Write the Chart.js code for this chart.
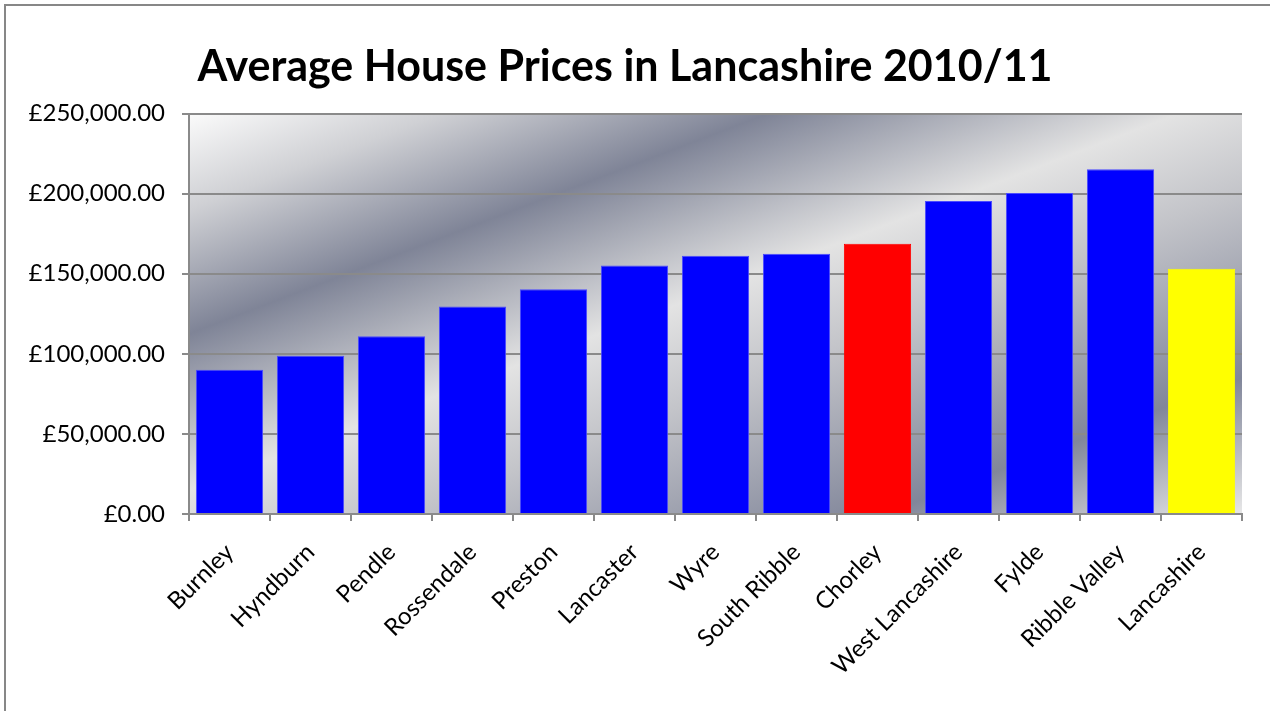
<!DOCTYPE html>
<html>
<head>
<meta charset="utf-8">
<script src="https://cdn.jsdelivr.net/npm/chart.js@4.4.1/dist/chart.umd.min.js"></script>
<style>
  html, body { margin: 0; padding: 0; background: #ffffff; }
  #wrap { width: 1270px; height: 711px; position: relative; }
</style>
</head>
<body>
<div id="wrap"><canvas id="c" width="1270" height="711"></canvas></div>
<script>
const chartTitle = 'Average House Prices in Lancashire 2010/11';
const categories = ['Burnley', 'Hyndburn', 'Pendle', 'Rossendale', 'Preston', 'Lancaster', 'Wyre',
  'South Ribble', 'Chorley', 'West Lancashire', 'Fylde', 'Ribble Valley', 'Lancashire'];
const averagePrices = [90000, 98750, 111000, 129500, 140400, 155200, 161250,
  162500, 168750, 195400, 200400, 215200, 153100];
const barColors = ['#0000ff', '#0000ff', '#0000ff', '#0000ff', '#0000ff', '#0000ff', '#0000ff',
  '#0000ff', '#ff0000', '#0000ff', '#0000ff', '#0000ff', '#ffff00'];
const barBorders = ['#4a4aff', '#4a4aff', '#4a4aff', '#4a4aff', '#4a4aff', '#4a4aff', '#4a4aff',
  '#4a4aff', '#ff0000', '#4a4aff', '#4a4aff', '#4a4aff', '#ffff00'];
const yTickValues = [0, 50000, 100000, 150000, 200000, 250000];

const fmt = v => '£' + Number(v).toLocaleString('en-GB', { minimumFractionDigits: 2, maximumFractionDigits: 2 });

const bgPlugin = {
  id: 'bg',
  beforeDraw(chart) {
    const ctx = chart.ctx;
    ctx.save();
    ctx.fillStyle = '#ffffff';
    ctx.fillRect(0, 0, chart.width, chart.height);
    ctx.strokeStyle = '#878787';
    ctx.lineWidth = 2;
    ctx.strokeRect(5, 5, 1400, 900);
    const a = chart.chartArea;
    const W = a.right - a.left, H = a.bottom - a.top;
    const k = 2 * W * H / (W * W + H * H);
    const g = ctx.createLinearGradient(a.left, a.top, a.left + H * k, a.top + W * k);
    g.addColorStop(0, '#fbfbfb');
    g.addColorStop(0.12, '#cfd0d4');
    g.addColorStop(0.275, '#7f8497');
    g.addColorStop(0.47, '#e3e3e3');
    g.addColorStop(0.6, '#c3c4c9');
    g.addColorStop(0.83, '#81869a');
    g.addColorStop(1, '#e8e8e8');
    ctx.fillStyle = g;
    ctx.fillRect(a.left, a.top, W, H);
    ctx.restore();
  }
};

const gridGray = '#8a8a8a';
new Chart(document.getElementById('c'), {
  type: 'bar',
  data: {
    labels: categories,
    datasets: [{
      data: averagePrices,
      backgroundColor: barColors,
      borderColor: barBorders,
      borderWidth: 1,
      borderSkipped: 'start',
      barPercentage: 0.83,
      categoryPercentage: 1.0
    }]
  },
  options: {
    responsive: false,
    animation: false,
    devicePixelRatio: 1,
    layout: { padding: { left: 8, right: 28, top: 10, bottom: 0 } },
    plugins: {
      legend: { display: false },
      tooltip: { enabled: false },
      title: {
        display: true,
        text: chartTitle,
        color: '#000000',
        font: { family: 'Lato', size: 43, weight: 'bold', lineHeight: 1.2 },
        padding: { top: 31, bottom: 21 }
      }
    },
    scales: {
      x: {
        grid: { display: true, drawOnChartArea: false, drawTicks: true, tickLength: 7, color: gridGray, lineWidth: 2, offset: true },
        border: { display: true, color: gridGray, width: 2 },
        ticks: {
          color: '#000000',
          font: { family: 'Lato', size: 24 },
          minRotation: 45, maxRotation: 45, autoSkip: false, padding: 17
        },
        afterFit(s) { s.height = 197; }
      },
      y: {
        min: 0, max: 250000,
        grid: { color: gridGray, lineWidth: 2, tickLength: 7, drawTicks: true },
        border: { display: true, color: gridGray, width: 2 },
        afterBuildTicks(s) { s.ticks = yTickValues.map(v => ({ value: v })); },
        ticks: {
          color: '#000000',
          font: { family: 'Lato', size: 24 },
          padding: 17,
          callback: v => fmt(v)
        },
        afterFit(s) { s.width = 181; }
      }
    }
  },
  plugins: [bgPlugin]
});
</script>
</body>
</html>
